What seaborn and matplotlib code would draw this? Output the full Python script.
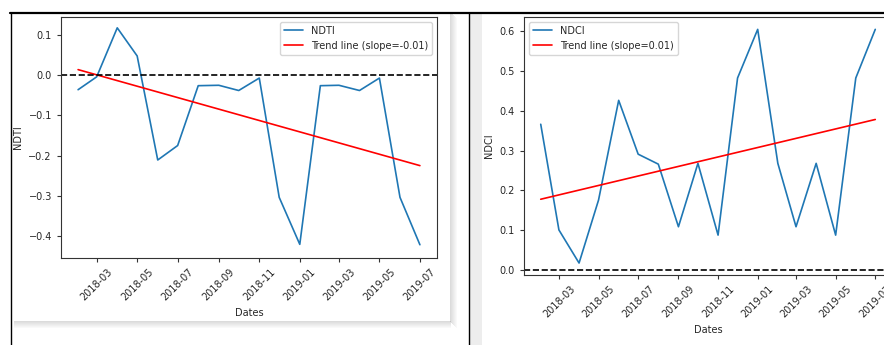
import numpy as np
import pandas as pd
import matplotlib
matplotlib.use("Agg")
import matplotlib.pyplot as plt
import seaborn as sns
from matplotlib.patches import Rectangle
from matplotlib.lines import Line2D

dates = pd.date_range("2018-02-01", "2019-07-01", freq="MS")
ndti = [-0.036, -0.004, 0.118, 0.048, -0.211, -0.175, -0.026, -0.025, -0.038,
        -0.007, -0.304, -0.421, -0.026, -0.025, -0.038, -0.007, -0.304, -0.422]
ndci = [0.366, 0.101, 0.018, 0.176, 0.426, 0.291, 0.266, 0.109, 0.268,
        0.088, 0.482, 0.604, 0.268, 0.109, 0.268, 0.088, 0.482, 0.604]
ndti_trend_ends = [0.014, -0.225]
ndci_trend_ends = [0.178, 0.378]
ndti_label = "Trend line (slope=-0.01)"
ndci_label = "Trend line (slope=0.01)"

sns.set_style("white")
plt.rcParams['font.family'] = ['DejaVu Sans']

W, H = 884, 345
fig = plt.figure(figsize=(W / 100, H / 100), dpi=100)

def px(x0, y0, x1, y1):
    return [x0 / W, 1 - y1 / H, (x1 - x0) / W, (y1 - y0) / H]

# decorations (screenshot frame)
for i, a in enumerate(np.linspace(0.35, 0.0, 8)):
    fig.add_artist(Rectangle((450 / W + i / W, 1 - 322 / H - i / H), 1.2 / W, (310) / H,
                             transform=fig.transFigure, color=(0.6, 0.6, 0.6), alpha=a, lw=0))
    fig.add_artist(Rectangle((14 / W, 1 - 322 / H - i / H), 437 / W, 1.2 / H,
                             transform=fig.transFigure, color=(0.6, 0.6, 0.6), alpha=a, lw=0))
fig.add_artist(Rectangle((470 / W, 0), 12 / W, 1 - 13 / H, transform=fig.transFigure,
                         color=(0.93, 0.93, 0.93), lw=0))
fig.add_artist(Line2D([10 / W, 1], [1 - 12.5 / H] * 2, transform=fig.transFigure, color="black", lw=1.6))
fig.add_artist(Line2D([10.5 / W] * 2, [0, 1 - 12.5 / H], transform=fig.transFigure, color="black", lw=1.0))
fig.add_artist(Line2D([469 / W] * 2, [0, 1 - 12.5 / H], transform=fig.transFigure, color="black", lw=1.0))

fs = 7
ax1 = fig.add_axes(px(61, 17, 437, 258))
ax2 = fig.add_axes(px(524, 17, 892, 275))

def draw(ax, vals, trend, label, name, loc):
    df = pd.DataFrame({"Dates": dates, name: vals})
    sns.lineplot(data=df, x="Dates", y=name, ax=ax, color="#1f77b4", lw=1.2, label=name)
    tdf = pd.DataFrame({"Dates": [dates[0], dates[-1]], "t": trend})
    sns.lineplot(data=tdf, x="Dates", y="t", ax=ax, color="red", lw=1.2, label=label)
    ax.axhline(0, color="black", ls="--", lw=1.2)
    ax.set_ylabel(name, fontsize=fs)
    ax.set_xlabel("Dates", fontsize=fs)
    ax.tick_params(axis="both", labelsize=fs, length=3, color="#333333", bottom=True, left=True)
    ax.xaxis.set_major_locator(matplotlib.dates.MonthLocator(bymonth=[1, 3, 5, 7, 9, 11]))
    ax.xaxis.set_major_formatter(matplotlib.dates.DateFormatter("%Y-%m"))
    for lab in ax.get_xticklabels():
        lab.set_rotation(45)
    for s in ax.spines.values():
        s.set_color("#333333")
        s.set_linewidth(0.8)
    ax.legend(loc=loc, fontsize=fs, frameon=True)

draw(ax1, ndti, ndti_trend_ends, ndti_label, "NDTI", "upper right")
draw(ax2, ndci, ndci_trend_ends, ndci_label, "NDCI", "upper left")
ax1.set_ylim(-0.455, 0.145)
ax1.set_yticks([-0.4, -0.3, -0.2, -0.1, 0.0, 0.1])
ax2.set_ylim(-0.012, 0.635)
ax2.set_yticks([0.0, 0.1, 0.2, 0.3, 0.4, 0.5, 0.6])

fig.savefig("out.png", dpi=100)
